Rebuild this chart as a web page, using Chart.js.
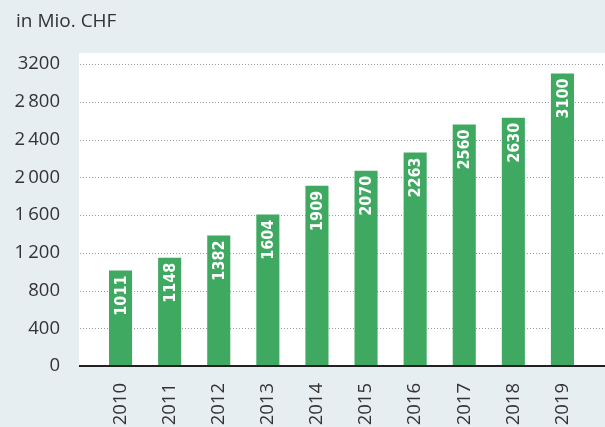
<!DOCTYPE html>
<html><head><meta charset="utf-8">
<script src="https://cdn.jsdelivr.net/npm/chart.js@4/dist/chart.umd.min.js"></script>
<style>html,body{margin:0;padding:0;background:#e6eef2;}#wrap{width:605px;height:427px;position:relative;}</style>
</head><body><div id="wrap"><canvas id="c" width="605" height="427"></canvas></div>
<script>
const categories = ['2010','2011','2012','2013','2014','2015','2016','2017','2018','2019'];
const values = [1011,1148,1382,1604,1909,2070,2263,2560,2630,3100];
const tickLabels = {0:'0',400:'400',800:'800',1200:'1\u2009200',1600:'1\u2009600',2000:'2\u2009000',2400:'2\u2009400',2800:'2\u2009800',3200:'3200'};
const unitTitle = 'in Mio. CHF';

const TXT = '#333333';
const GREEN = '#3fa962';
const FONT = "'Open Sans', 'Noto Sans', sans-serif";

const bgPlugin = {
  id: 'bg',
  beforeDraw(chart) {
    const ctx = chart.ctx, y = chart.scales.y;
    const bottom = y.getPixelForValue(0);
    ctx.save();
    ctx.fillStyle = '#e6eef2';
    ctx.fillRect(0, 0, chart.width, chart.height);
    ctx.fillStyle = '#ffffff';
    ctx.fillRect(79, 53, chart.width - 79, bottom - 53);
    ctx.strokeStyle = '#9a9a9a';
    ctx.lineWidth = 1;
    ctx.setLineDash([1, 2]);
    y.ticks.forEach(t => {
      if (t.value === 0) return;
      const py = Math.round(y.getPixelForValue(t.value)) + 0.5;
      ctx.beginPath(); ctx.moveTo(80, py); ctx.lineTo(chart.width, py); ctx.stroke();
    });
    ctx.setLineDash([]);
    ctx.fillStyle = TXT;
    ctx.font = '19px ' + FONT;
    ctx.textBaseline = 'alphabetic';
    ctx.textAlign = 'left';
    ctx.fillText(unitTitle, 16, 27);
    ctx.restore();
  },
  afterDatasetsDraw(chart) {
    const ctx = chart.ctx, y = chart.scales.y;
    const bottom = Math.round(y.getPixelForValue(0));
    ctx.save();
    ctx.strokeStyle = '#222222';
    ctx.lineWidth = 2;
    ctx.beginPath(); ctx.moveTo(79, bottom); ctx.lineTo(chart.width, bottom); ctx.stroke();
    const meta = chart.getDatasetMeta(0);
    ctx.fillStyle = '#ffffff';
    ctx.font = "bold 16px 'DejaVu Sans Condensed', 'DejaVu Sans', sans-serif";
    ctx.textAlign = 'right';
    ctx.textBaseline = 'middle';
    meta.data.forEach((bar, i) => {
      ctx.save();
      ctx.translate(bar.x + 1, bar.y + 5);
      ctx.rotate(-Math.PI / 2);
      ctx.fillText(String(values[i]), 0, 0);
      ctx.restore();
    });
    ctx.restore();
  }
};

new Chart(document.getElementById('c'), {
  type: 'bar',
  data: {
    labels: categories,
    datasets: [{
      data: values,
      backgroundColor: GREEN,
      borderWidth: 0,
      barPercentage: 0.94,
      categoryPercentage: 0.5
    }]
  },
  options: {
    responsive: false,
    animation: false,
    devicePixelRatio: 1,
    layout: { padding: { top: 64, right: 18, left: 0, bottom: 0 } },
    plugins: { legend: { display: false }, tooltip: { enabled: false } },
    scales: {
      x: {
        grid: { display: false, drawTicks: false },
        border: { display: false },
        ticks: {
          color: TXT, font: { family: FONT, size: 18.5 },
          minRotation: 90, maxRotation: 90, padding: 17, autoSkip: false
        },
        afterFit(s) { s.height = 61; }
      },
      y: {
        min: 0, max: 3200,
        grid: { display: false, drawTicks: false },
        border: { display: false },
        ticks: {
          stepSize: 400, color: TXT, font: { family: FONT, size: 18.5 }, padding: 36,
          callback: v => tickLabels[v] !== undefined ? tickLabels[v] : ''
        },
        afterFit(s) { s.width = 96; }
      }
    }
  },
  plugins: [bgPlugin]
});
</script></body></html>
